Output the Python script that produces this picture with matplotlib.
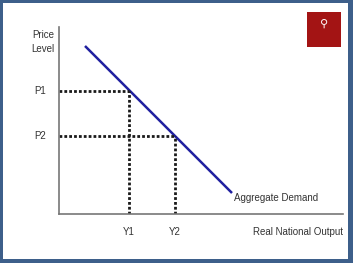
import matplotlib.pyplot as plt
from matplotlib.patches import Rectangle

# values (units = px from the axes origin)
ad_x = [26, 173]
ad_y = [168, 21]
price_labels = ['P1', 'P2']
price_levels = [123, 78]
output_labels = ['Y1', 'Y2']
outputs = [70, 116]

plt.rcParams['font.family'] = ['Liberation Sans', 'DejaVu Sans']

fig = plt.figure(figsize=(3.53, 2.63), dpi=100)
fig.patch.set_facecolor('#3d5f8a')
fig.patches.append(Rectangle((3/353, 4/263), 345/353, 256/263, transform=fig.transFigure,
                             facecolor='white', edgecolor='none', zorder=-5))

ax = fig.add_axes([59/353, 49/263, 284/353, 187/263])
ax.set_zorder(2)
ax.set_xlim(0, 284)
ax.set_ylim(0, 187)
ax.patch.set_alpha(0)
for s in ['top', 'right']:
    ax.spines[s].set_visible(False)
for s in ['left', 'bottom']:
    ax.spines[s].set_color('#777777')
    ax.spines[s].set_linewidth(1.2)
ax.set_xticks([])
ax.set_yticks([])

ax.plot(ad_x, ad_y, color='#2020a0', lw=1.8, solid_capstyle='butt')

dots = (0, (1, 0.75))
for p, y, pl, yl in zip(price_levels, outputs, price_labels, output_labels):
    ax.plot([0, y], [p, p], color='#1a1a1a', lw=2, linestyle=dots)
    ax.plot([y, y], [0, p], color='#1a1a1a', lw=2, linestyle=dots)
    ax.text(-19, p, pl, ha='center', va='center', fontsize=7, color='#333333', clip_on=False)
    ax.text(y, -18, yl, ha='center', va='center', fontsize=7, color='#333333', clip_on=False)

ax.text(-16, 172, 'Price\nLevel', ha='center', va='center', fontsize=7, color='#333333',
        linespacing=1.45, clip_on=False)
ax.text(175, 16, 'Aggregate Demand', ha='left', va='center', fontsize=7, color='#333333')
ax.text(284, -18, 'Real National Output', ha='right', va='center', fontsize=7,
        color='#333333', clip_on=False)

# logo box
fig.patches.append(Rectangle((307/353, 1 - 47/263), 34/353, 35/263, transform=fig.transFigure,
                             facecolor='#a31414', edgecolor='none', zorder=3))
fig.text(324/353, 1 - 24/263, '⚲', ha='center', va='center', fontsize=8, color='white', zorder=4)

fig.savefig('out.png', dpi=100)
